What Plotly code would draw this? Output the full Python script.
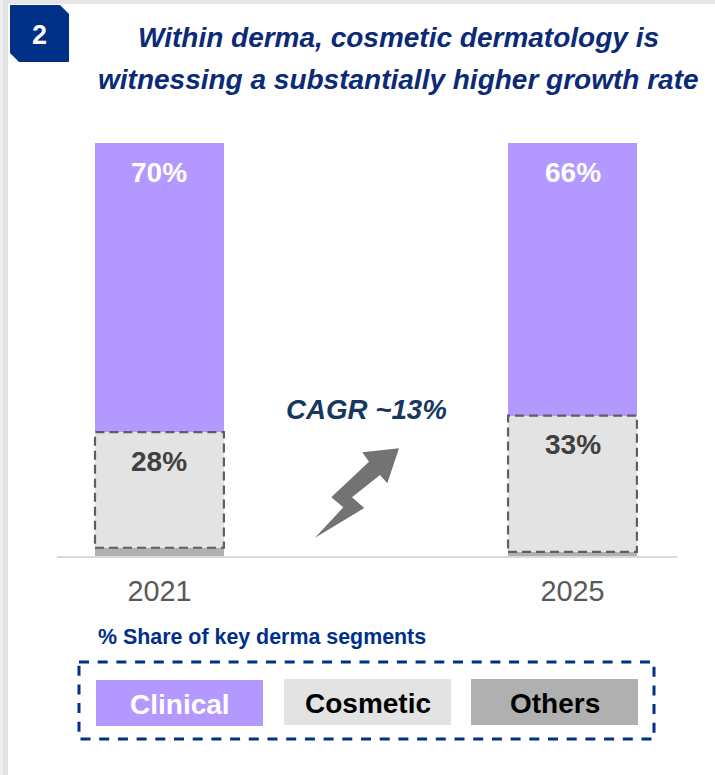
import plotly.graph_objects as go

WIDTH, HEIGHT = 715, 775

# Share of key derma segments, percent
years = ["2021", "2025"]
year_positions = [0, 1]
others = [2, 1]
cosmetic = [28, 33]
clinical = [70, 66]
clinical_labels = ["70%", "66%"]
cosmetic_labels = ["28%", "33%"]

legend_names = ["Clinical", "Cosmetic", "Others"]
CLINICAL = "#b399ff"
COSMETIC = "#e3e3e3"
OTHERS = "#b0b0b0"
NAVY = "#003087"
FONT = "Liberation Sans, Arial, sans-serif"
BAR_WIDTH = 0.312


def px(x):
    return x / WIDTH


def py(y):
    return 1 - y / HEIGHT


def polygon(points, color):
    path = "M" + " L".join(f"{px(x):.5f},{py(y):.5f}" for x, y in points) + " Z"
    return dict(type="path", xref="paper", yref="paper", path=path,
                fillcolor=color, line=dict(width=0))


def box(x0, y0, x1, y1, fill, line=None, layer="below"):
    return dict(type="rect", xref="paper", yref="paper", layer=layer,
                x0=px(x0), y0=py(y0), x1=px(x1), y1=py(y1),
                fillcolor=fill, line=line or dict(width=0))


def label(x, y, text, size, color, bold=True, italic=False):
    if bold:
        text = f"<b>{text}</b>"
    if italic:
        text = f"<i>{text}</i>"
    return dict(xref="paper", yref="paper", x=px(x), y=py(y), text=text,
                showarrow=False, xanchor="center", yanchor="middle",
                font=dict(family=FONT, size=size, color=color))


def bar_label(pos, top, text, color):
    # value label hanging just under the top edge of its segment
    return dict(xref="x", yref="y", x=pos, y=top, yshift=-29, text=f"<b>{text}</b>",
                showarrow=False, xanchor="center", yanchor="middle",
                font=dict(family=FONT, size=28, color=color))


fig = go.Figure()
for name, values, color in [("Others", others, OTHERS),
                            ("Cosmetic", cosmetic, COSMETIC),
                            ("Clinical", clinical, CLINICAL)]:
    fig.add_bar(x=year_positions, y=values, name=name, width=BAR_WIDTH,
                marker=dict(color=color, line=dict(width=0)), hoverinfo="skip")

shapes = [
    # panel drop shadow along the top and left edges
    box(0, 0, WIDTH, 4, "#e6e6e6"),
    box(0, 0, 3, HEIGHT, "#efefef"),
    box(3, 0, 8, HEIGHT, "#e2e2e2"),
    # number badge
    polygon([(10, 5), (60, 5), (69, 14), (69, 62), (19, 62), (10, 53)], NAVY),
    # growth arrow
    polygon([(399, 448.3), (362.3, 452.3), (369, 461.7), (331.3, 497.3),
             (343.3, 507.3), (315, 537.7), (364.3, 508), (352, 497.3),
             (380, 475), (387.3, 483.3)], "#737373"),
    # legend frame and swatches
    box(79, 662, 654, 739, "rgba(0,0,0,0)", dict(color=NAVY, width=3, dash="10px,8.7px")),
    box(96, 680, 263, 726, CLINICAL),
    box(284, 679, 451, 725, COSMETIC),
    box(471, 679, 638, 725, OTHERS),
]

# dashed outline around each cosmetic segment
for pos, low, seg in zip(year_positions, others, cosmetic):
    shapes.append(dict(type="rect", xref="x", yref="y", layer="above",
                       x0=pos - BAR_WIDTH / 2, x1=pos + BAR_WIDTH / 2,
                       y0=low, y1=low + seg,
                       line=dict(color="#5f5f5f", width=2.2, dash="9px,5px")))

annotations = [
    label(39.5, 35, "2", 27, "white"),
    label(399, 37.5, "Within derma, cosmetic dermatology is", 28, "#0b2a78", italic=True),
    label(398, 79.5, "witnessing a substantially higher growth rate", 28, "#0b2a78", italic=True),
    label(366, 409, "CAGR ~13%", 27.7, "#17375e", italic=True),
    label(262, 637, "% Share of key derma segments", 21.4, NAVY),
    label(179.5, 704, legend_names[0], 28, "white"),
    label(367.5, 703, legend_names[1], 28, "black"),
    label(554.5, 703, legend_names[2], 28, "black"),
]
for i, pos in enumerate(year_positions):
    low = others[i] + cosmetic[i]
    annotations.append(bar_label(pos, low + clinical[i], clinical_labels[i], "white"))
    annotations.append(bar_label(pos, low, cosmetic_labels[i], "#404040"))

fig.update_layout(
    width=WIDTH, height=HEIGHT, autosize=False,
    margin=dict(l=0, r=0, t=0, b=0),
    paper_bgcolor="white", plot_bgcolor="white",
    barmode="stack", showlegend=False,
    shapes=shapes, annotations=annotations,
    xaxis=dict(domain=[px(57), px(677)], range=[-0.248, 1.253],
               tickmode="array", tickvals=year_positions, ticktext=years,
               ticks="", ticklen=0, showgrid=False, zeroline=False,
               showline=True, linecolor="#d9d9d9", linewidth=2,
               ticklabelstandoff=8,
               tickfont=dict(family=FONT, size=28.8, color="#595959")),
    yaxis=dict(domain=[py(556), py(143)], range=[0, 100], visible=False),
)

fig.write_html("out.html", config=dict(displayModeBar=False))
